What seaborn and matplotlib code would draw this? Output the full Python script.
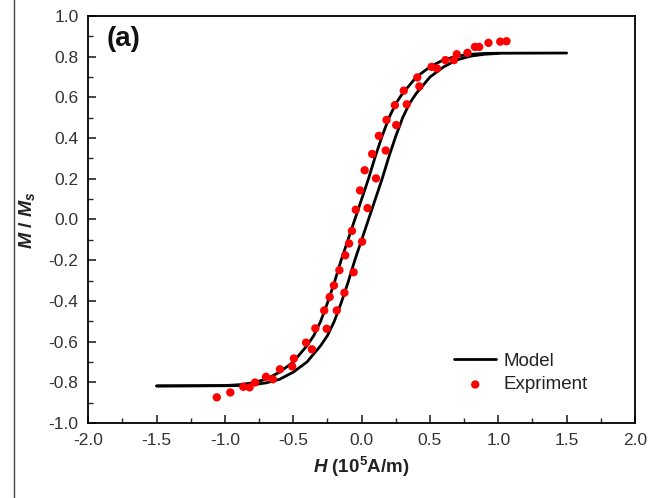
import matplotlib
matplotlib.use("Agg")
import matplotlib.pyplot as plt
from matplotlib.lines import Line2D
import seaborn as sns
import pandas as pd

# ---- data ----
model_up_x = [-1.5, -1.0, -0.9, -0.8, -0.7, -0.6, -0.5, -0.45, -0.4, -0.35, -0.3, -0.25,
              -0.2, -0.15, -0.1, -0.05, 0.0, 0.05, 0.1, 0.15, 0.2, 0.25, 0.3, 0.35, 0.4,
              0.5, 0.6, 0.7, 0.8, 0.9, 1.0, 1.5]
model_up_y = [-0.818, -0.816, -0.812, -0.803, -0.785, -0.75, -0.70, -0.66, -0.62, -0.57,
              -0.50, -0.41, -0.31, -0.20, -0.10, 0.0, 0.10, 0.20, 0.31, 0.41, 0.50, 0.57,
              0.62, 0.66, 0.70, 0.75, 0.785, 0.803, 0.812, 0.816, 0.817, 0.818]
model_dn_x = [-1.5, -1.0, -0.9, -0.8, -0.7, -0.6, -0.5, -0.4, -0.35, -0.3, -0.25, -0.2,
              -0.15, -0.1, -0.05, 0.0, 0.05, 0.1, 0.15, 0.2, 0.25, 0.3, 0.35, 0.4, 0.45,
              0.5, 0.6, 0.7, 0.8, 0.9, 1.0]
model_dn_y = [-0.818, -0.817, -0.816, -0.812, -0.803, -0.785, -0.75, -0.70, -0.66, -0.62,
              -0.57, -0.50, -0.41, -0.31, -0.20, -0.10, 0.0, 0.10, 0.20, 0.31, 0.41, 0.50,
              0.57, 0.62, 0.66, 0.70, 0.75, 0.785, 0.803, 0.812, 0.816]

exp_x = [-1.060, -0.961, -0.866, -0.820, -0.780, -0.700, -0.650, -0.598, -0.508, -0.496,
         -0.407, -0.364, -0.339, -0.256, -0.274, -0.182, -0.234, -0.126, -0.203, -0.163,
         -0.059, -0.120, -0.092, 0.003, -0.071, -0.043, 0.043, -0.012, 0.022, 0.105,
         0.077, 0.126, 0.176, 0.182, 0.253, 0.243, 0.330, 0.308, 0.407, 0.422,
         0.512, 0.552, 0.613, 0.675, 0.696, 0.774, 0.829, 0.860, 0.928, 1.014, 1.060]
exp_y = [-0.874, -0.850, -0.822, -0.825, -0.801, -0.773, -0.785, -0.736, -0.722, -0.683,
         -0.605, -0.638, -0.535, -0.537, -0.447, -0.447, -0.381, -0.360, -0.324, -0.249,
         -0.259, -0.176, -0.118, -0.109, -0.056, 0.048, 0.056, 0.143, 0.242, 0.202,
         0.322, 0.411, 0.339, 0.489, 0.464, 0.562, 0.566, 0.633, 0.698, 0.654,
         0.750, 0.742, 0.783, 0.783, 0.812, 0.819, 0.848, 0.848, 0.868, 0.874, 0.876]

x_ticks = [-2.0, -1.5, -1.0, -0.5, 0.0, 0.5, 1.0, 1.5, 2.0]
y_ticks = [-1.0, -0.8, -0.6, -0.4, -0.2, 0.0, 0.2, 0.4, 0.6, 0.8, 1.0]

# ---- style ----
sns.set_style("ticks")
plt.rcParams['font.family'] = ['Liberation Sans', 'DejaVu Sans']
plt.rcParams['mathtext.fontset'] = 'custom'
plt.rcParams['mathtext.rm'] = 'Liberation Sans'
plt.rcParams['mathtext.it'] = 'Liberation Sans:italic'
plt.rcParams['mathtext.bf'] = 'Liberation Sans:bold'
plt.rcParams['mathtext.bfit'] = 'Liberation Sans:bold:italic'

fig = plt.figure(figsize=(6.62, 4.98), dpi=100)
ax = fig.add_axes([0.1334, 0.1506, 0.8258, 0.8173])

df_up = pd.DataFrame({'H': model_up_x, 'M': model_up_y})
df_dn = pd.DataFrame({'H': model_dn_x, 'M': model_dn_y})
df_exp = pd.DataFrame({'H': exp_x, 'M': exp_y})

sns.lineplot(data=df_up, x='H', y='M', sort=False, color='black', lw=2.0, ax=ax,
             label='Model', zorder=2)
sns.lineplot(data=df_dn, x='H', y='M', sort=False, color='black', lw=2.0, ax=ax,
             label='_nolegend_', zorder=2)
sns.scatterplot(data=df_exp, x='H', y='M', color='#ff0000', s=36, edgecolor='none',
                ax=ax, label='Expriment', zorder=3)

ax.set_xlim(-2.0, 2.0)
ax.set_ylim(-1.0, 1.0)
ax.set_xticks(x_ticks)
ax.set_yticks(y_ticks)
ax.set_xticklabels([f"{v:.1f}" for v in x_ticks])
ax.set_yticklabels([f"{v:.1f}" for v in y_ticks])
ax.set_xticks([-1.75, -1.25, -0.75, -0.25, 0.25, 0.75, 1.25, 1.75], minor=True)
ax.set_yticks([-0.9, -0.7, -0.5, -0.3, -0.1, 0.1, 0.3, 0.5, 0.7, 0.9], minor=True)
ax.tick_params(axis='both', which='major', direction='in', length=6, width=1.2,
               labelsize=12.5, labelcolor='#333333')
ax.tick_params(axis='x', which='major', pad=7)
ax.tick_params(axis='y', which='major', pad=7)
ax.tick_params(axis='both', which='minor', direction='in', length=3.5, width=1.0)
ax.tick_params(top=False, right=False, which='both')
for sp in ax.spines.values():
    sp.set_visible(True)
    sp.set_linewidth(1.3)
    sp.set_color('black')

ax.set_xlabel(r'$\mathbfit{H}$ (10$^{\mathbf{5}}$A/m)', fontsize=13.5, fontweight='bold',
              color='#222222', labelpad=5)
ax.set_ylabel(r'$\mathbfit{M}$ / $\mathbfit{M}_{\mathbfit{s}}$', fontsize=14,
              fontweight='bold', color='#222222', labelpad=8)

ax.text(0.034, 0.975, '(a)', transform=ax.transAxes, fontsize=20, fontweight='bold',
        va='top', ha='left', color='#111111')

leg = ax.legend(loc='upper left', bbox_to_anchor=(0.652, 0.196), frameon=False,
                fontsize=13.5, borderpad=0, handlelength=2.25, handletextpad=0.4,
                labelspacing=0.35, markerscale=1.0)
for t in leg.get_texts():
    t.set_color('#222222')

# thin vertical line at the left edge of the image
fig.add_artist(Line2D([0.021, 0.021], [0.0, 1.0], transform=fig.transFigure,
                      color='#444444', lw=1.0))

fig.savefig('out.png', dpi=100)
